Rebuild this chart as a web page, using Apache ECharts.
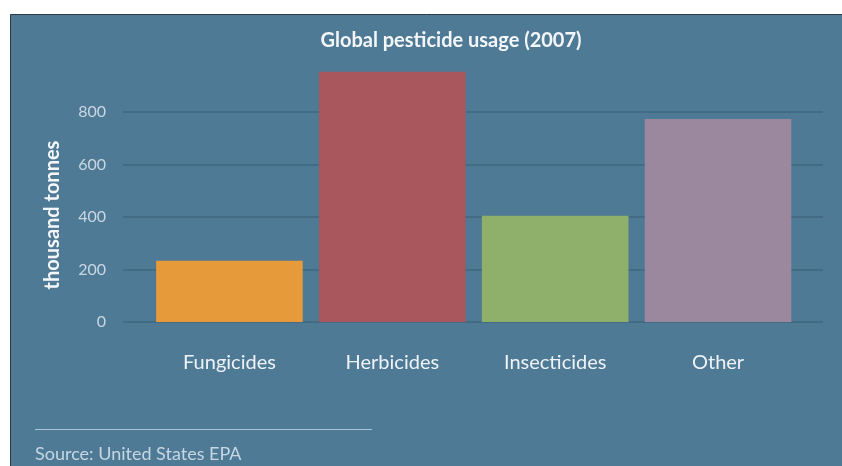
<!DOCTYPE html>
<html>
<head>
<meta charset="utf-8">
<script src="https://cdn.jsdelivr.net/npm/echarts@6/dist/echarts.min.js"></script>
<style>
  html, body { margin: 0; padding: 0; background: #ffffff; }
  #chart { width: 842px; height: 466px; }
</style>
</head>
<body>
<div id="chart"></div>
<script>
// Global pesticide usage, 2007 (thousand tonnes)
const categories = ['Fungicides', 'Herbicides', 'Insecticides', 'Other'];
const usage = [233, 953, 405, 773];
const barColors = ['#e79a3a', '#a9565c', '#8fb06b', '#9b879e'];
const yTicks = [0, 200, 400, 600, 800];

const FONT = 'Lato, "Open Sans", sans-serif';
const PANEL = '#4f7a95';

const chart = echarts.init(document.getElementById('chart'), null, { renderer: 'canvas' });

const yScale = { type: 'value', min: 0, max: 1000, interval: 200 };

chart.setOption({
  animation: false,
  backgroundColor: '#ffffff',
  graphic: [
    {
      type: 'rect', z: -10, silent: true,
      shape: { x: 10.5, y: 14.5, width: 840, height: 460 },
      style: { fill: PANEL, stroke: '#2f3a44', lineWidth: 1 }
    },
    {
      type: 'text', x: 451, y: 31,
      style: {
        text: 'Global pesticide usage (2007)', align: 'center', verticalAlign: 'top',
        fill: '#f4f7fa', font: 'bold 20px ' + FONT
      }
    },
    {
      type: 'text', x: 53, y: 215, rotation: Math.PI / 2,
      style: {
        text: 'thousand tonnes', align: 'center', verticalAlign: 'middle',
        fill: '#f4f7fa', font: 'bold 20px ' + FONT
      }
    },
    {
      type: 'line', silent: true,
      shape: { x1: 35, y1: 429.5, x2: 372, y2: 429.5 },
      style: { stroke: '#a9c5da', lineWidth: 1 }
    },
    {
      type: 'text', x: 35, y: 445,
      style: {
        text: 'Source: United States EPA', verticalAlign: 'top',
        fill: '#c6d6e3', font: '18px ' + FONT
      }
    }
  ],
  grid: [
    // gridlines and value labels
    { left: 123, right: 19, top: 59.5, bottom: 144 },
    // bars and category labels
    { left: 148, right: 42.5, top: 59.5, bottom: 144 }
  ],
  xAxis: [
    { gridIndex: 0, type: 'category', data: categories, show: false },
    {
      gridIndex: 1, type: 'category', data: categories,
      axisLine: { show: false }, axisTick: { show: false },
      axisLabel: { color: '#eef3f7', fontSize: 20, fontFamily: FONT, margin: 31 }
    }
  ],
  yAxis: [
    Object.assign({
      gridIndex: 0,
      axisLine: { show: false }, axisTick: { show: false },
      axisLabel: {
        color: '#c9d7e2', fontSize: 16, fontFamily: FONT, margin: 17,
        showMaxLabel: false,
        formatter: v => (yTicks.includes(v) ? String(v) : '')
      },
      splitLine: { show: true, showMaxLine: false, lineStyle: { color: '#41677f', width: 1.5 } }
    }, yScale),
    Object.assign({ gridIndex: 1, show: false, splitLine: { show: false } }, yScale)
  ],
  series: [
    {
      type: 'bar',
      xAxisIndex: 1, yAxisIndex: 1,
      barCategoryGap: '10%',
      data: usage.map((v, i) => ({ value: v, itemStyle: { color: barColors[i] } }))
    }
  ]
});
</script>
</body>
</html>
